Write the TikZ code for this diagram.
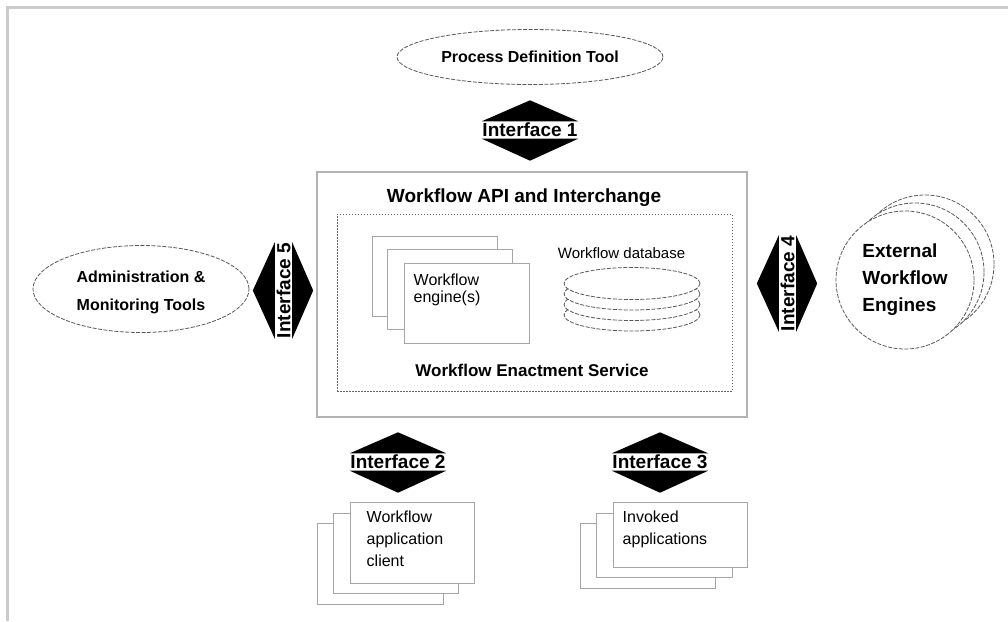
\documentclass[tikz,border=0pt]{standalone}
\usepackage{fontspec}
\setmainfont{Liberation Sans}
\usetikzlibrary{shapes.geometric,calc}
\begin{document}
\begin{tikzpicture}[x=1pt,y=-1pt,
  ifacelbl/.style={font=\bfseries\fontsize{19}{19}\selectfont, fill=white, inner xsep=0.5pt, inner ysep=0pt, minimum height=17pt},
  tool/.style={ellipse, draw=black!65, dash pattern=on 4pt off 1.5pt, line width=0.8pt, fill=white, inner sep=0pt},
  disc/.style={ellipse, draw=black!65, dash pattern=on 4pt off 1.5pt, line width=0.8pt, fill=white, minimum width=136pt, minimum height=32pt, inner sep=0pt},
  sheet/.style={draw=black!35, line width=1pt, fill=white, inner sep=0pt},
  small/.style={font=\fontsize{16}{22}\selectfont, align=left, inner sep=0pt, anchor=north west},
  titlefont/.style={font=\bfseries\fontsize{#1}{#1}\selectfont, inner sep=0pt}
]
\useasboundingbox (0,0) rectangle (1008,621);
% frame lines
\draw[line width=2.5pt, black!20] (7.5,621) -- (7.5,7.5) -- (1008,7.5);

% Process definition tool
\node[tool, minimum width=266pt, minimum height=55pt, font=\bfseries\fontsize{16}{16}\selectfont] (pdt) at (530,57) {Process Definition Tool};

% Interface 1
\node[ifacelbl] (i1) at (530,130) {Interface 1};
\fill (i1.north west) -- ([yshift=21pt]i1.north) -- (i1.north east) -- cycle;
\fill (i1.south west) -- ([yshift=-22pt]i1.south) -- (i1.south east) -- cycle;

% API box
\node[draw=black!30, line width=1.2pt, minimum width=430pt, minimum height=245pt, inner sep=0pt] (api) at (532,294.5) {};
\node[titlefont=19] (apit) at (524,198) {Workflow API and Interchange};
\node[draw=black!60, line width=0.8pt, dash pattern=on 1.5pt off 1.5pt, minimum width=395pt, minimum height=177pt, inner sep=0pt] (wes) at (534.5,302.5) {};
\node[titlefont=17] (west) at (532,370) {Workflow Enactment Service};

% engines
\node[sheet, minimum width=125pt, minimum height=80pt] (eng1) at (434.5,276) {};
\node[sheet, minimum width=125pt, minimum height=80pt] (eng2) at (450,289) {};
\node[sheet, minimum width=125pt, minimum height=80pt] (eng3) at (466.5,303) {};
\node[small, font=\fontsize{16}{17}\selectfont] (engt) at ([xshift=10pt,yshift=-11pt]eng3.north west) {Workflow\\engine(s)};

% database
\node[font=\fontsize{15}{15}\selectfont, inner sep=0pt] (dbt) at (621.5,253) {Workflow database};
\node[disc] (db4) at (632,315) {};
\node[disc] (db3) at (632,304.5) {};
\node[disc] (db2) at (632,294) {};
\node[disc] (db1) at (632,283.5) {};

% Administration
\node[tool, minimum width=216pt, minimum height=87pt, align=center, font=\bfseries\fontsize{16}{28}\selectfont] (adm) at (141,289) {};
\node[align=center, inner sep=0pt, font=\bfseries\fontsize{16}{28}\selectfont] (admt) at ([yshift=-3pt]adm.center) {Administration \&\\Monitoring Tools};

% Interface 5
\node[ifacelbl, rotate=90] (i5) at (283.5,290.5) {Interface 5};
\fill (i5.north west) -- ([xshift=-22pt]i5.north) -- (i5.north east) -- cycle;
\fill (i5.south west) -- ([xshift=21pt]i5.south) -- (i5.south east) -- cycle;

% Interface 4
\node[ifacelbl, rotate=90] (i4) at (787.5,283.5) {Interface 4};
\fill (i4.north west) -- ([xshift=-22pt]i4.north) -- (i4.north east) -- cycle;
\fill (i4.south west) -- ([xshift=21pt]i4.south) -- (i4.south east) -- cycle;

% External engines
\node[tool, circle, minimum size=138pt] (ext3) at (925,264) {};
\node[tool, circle, minimum size=138pt] (ext2) at (915,272) {};
\node[tool, circle, minimum size=138pt, align=left, font=\bfseries\fontsize{19}{27}\selectfont] (ext1) at (905,280) {External\\Workflow\\Engines};

% Interface 2 and 3
\node[ifacelbl] (i2) at (398,462) {Interface 2};
\fill (i2.north west) -- ([yshift=21pt]i2.north) -- (i2.north east) -- cycle;
\fill (i2.south west) -- ([yshift=-22pt]i2.south) -- (i2.south east) -- cycle;
\node[ifacelbl] (i3) at (660,462) {Interface 3};
\fill (i3.north west) -- ([yshift=21pt]i3.north) -- (i3.north east) -- cycle;
\fill (i3.south west) -- ([yshift=-22pt]i3.south) -- (i3.south east) -- cycle;

% client apps
\node[sheet, minimum width=126pt, minimum height=81pt] (cl3) at (380,563.5) {};
\node[sheet, minimum width=125pt, minimum height=80pt] (cl2) at (395.5,553) {};
\node[sheet, minimum width=124pt, minimum height=81pt] (cl1) at (412,542.5) {};
\node[small] (clt) at ([xshift=17pt,yshift=-9pt]cl1.north west) {Workflow\\application\\client};

% invoked apps
\node[sheet, minimum width=135pt, minimum height=65pt] (inv3) at (647.5,555.5) {};
\node[sheet, minimum width=136pt, minimum height=64pt] (inv2) at (664,545) {};
\node[sheet, minimum width=134pt, minimum height=65pt] (inv1) at (680,534.5) {};
\node[small] (invt) at ([xshift=10pt,yshift=-9pt]inv1.north west) {Invoked\\applications};
\end{tikzpicture}
\end{document}
